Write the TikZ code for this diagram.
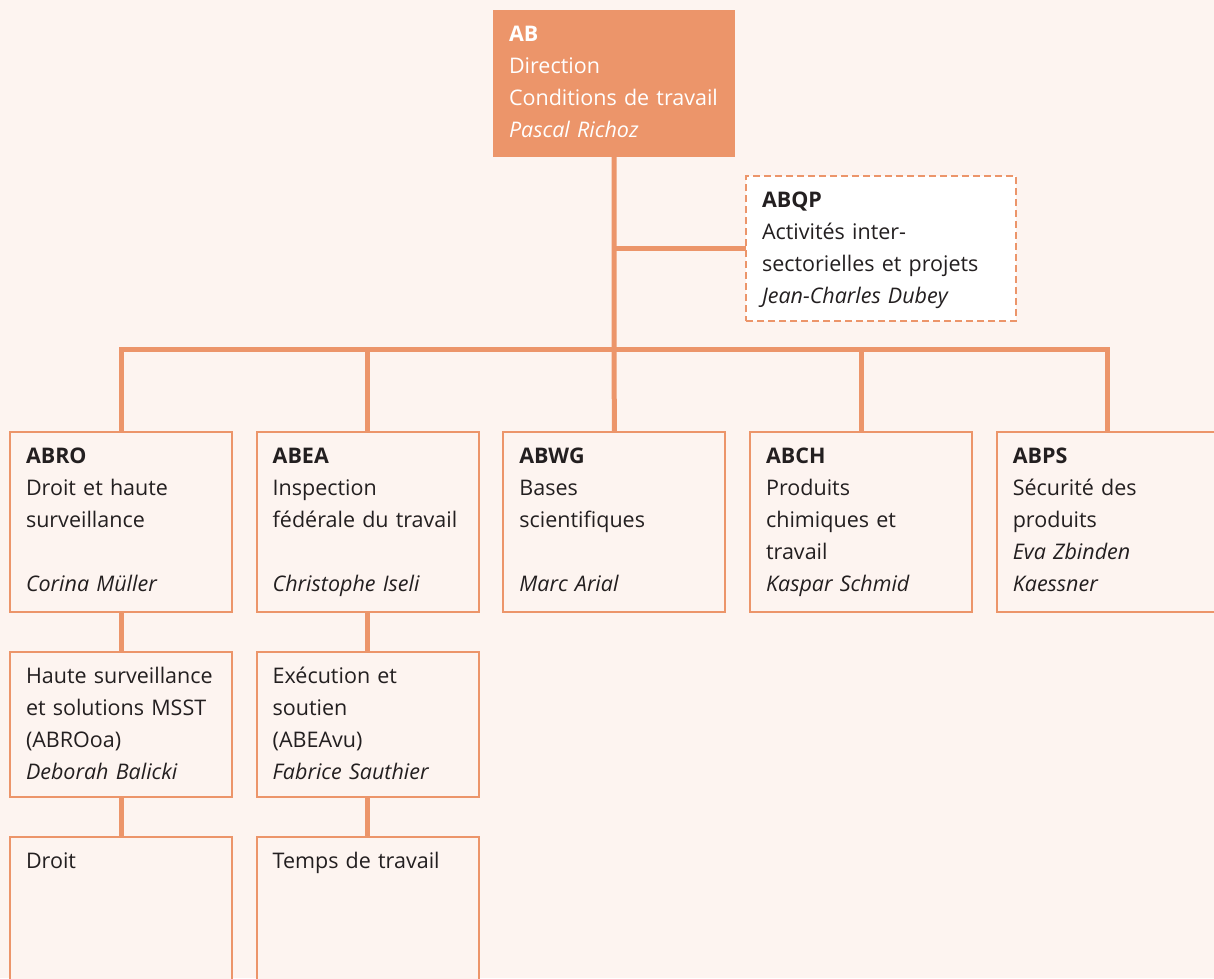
\documentclass[tikz,border=0pt]{standalone}
\usepackage{fontspec}
\setmainfont{Open Sans}
\usetikzlibrary{positioning}
\definecolor{paper}{RGB}{253,244,240}
\definecolor{accent}{RGB}{236,149,106}
\definecolor{ink}{RGB}{35,31,32}
\newcommand\unit[2]{\textbf{#1}\\#2}
\newcommand\AB     {\unit{AB}{Direction\\Conditions de travail\\\emph{Pascal Richoz}}}
\newcommand\ABQP   {\unit{ABQP}{Activités inter-\\sectorielles et projets\\\emph{Jean-Charles Dubey}}}
\newcommand\ABRO   {\unit{ABRO}{Droit et haute\\surveillance\\\mbox{}\\\emph{Corina Müller}}}
\newcommand\ABEA   {\unit{ABEA}{Inspection\\fédérale du travail\\\mbox{}\\\emph{Christophe Iseli}}}
\newcommand\ABWG   {\unit{ABWG}{Bases\\scientifiques\\\mbox{}\\\emph{Marc Arial}}}
\newcommand\ABCH   {\unit{ABCH}{Produits\\chimiques et\\travail\\\emph{Kaspar Schmid}}}
\newcommand\ABPS   {\unit{ABPS}{Sécurité des\\produits\\\emph{Eva Zbinden}\\\emph{Kaessner}}}
\newcommand\ABROoa {Haute surveillance\\et solutions MSST\\(ABROoa)\\\emph{Deborah Balicki}}
\newcommand\ABEAvu {Exécution et\\soutien\\(ABEAvu)\\\emph{Fabrice Sauthier}}

\begin{document}
\begin{tikzpicture}[x=1pt,y=-1pt]

\tikzset{unit/.style={draw=accent,line width=2pt,fill=paper,outer sep=0pt,
  inner xsep=16pt,inner ysep=0pt,text width=190pt,align=left,
  text height=31pt,text depth=#1,text=ink,font=\fontsize{21.5}{32}\selectfont},
  unit/.default=149pt}
\tikzset{link/.style={draw=accent,line width=5pt}}

\path[use as bounding box,fill=paper] (0,0) rectangle (1214,978);

\node[unit=116pt,fill=accent,draw=none,text=white,text width=210pt,anchor=north west] (ab) at (493,10) {\AB};
\node[unit=114pt,fill=white,dashed,dash pattern=on 7pt off 4pt,text width=238pt,anchor=north west] (abqp) at (746,176) {\ABQP};

\node[unit,anchor=north west] (abro) at (10,432) {\ABRO};
\node[unit,right=24.7pt of abro] (abea) {\ABEA};
\node[unit,right=24.7pt of abea] (abwg) {\ABWG};
\node[unit,right=24.7pt of abwg] (abch) {\ABCH};
\node[unit,right=24.7pt of abch] (abps) {\ABPS};

\node[unit=114pt,below=40pt of abro] (abrooa) {\ABROoa};
\node[unit=114pt,below=40pt of abea] (abeavu) {\ABEAvu};
\node[unit=129pt,below=40pt of abrooa] (droit) {Droit};
\node[unit=129pt,below=40pt of abeavu] (temps) {Temps de travail};

\path (ab.south) ++(0,192) coordinate (bus);
\draw[link] (ab.south) -- (bus) -- (abwg.north);
\draw[link] (abro.north) |- (bus) -| (abps.north);
\draw[link] (abea.north) -- (abea.north |- bus);
\draw[link] (abch.north) -- (abch.north |- bus);
\draw[link] (ab.south |- abqp.west) -- (abqp.west);
\draw[link] (abro.south) -- (abrooa.north);
\draw[link] (abrooa.south) -- (droit.north);
\draw[link] (abea.south) -- (abeavu.north);
\draw[link] (abeavu.south) -- (temps.north);

\end{tikzpicture}
\end{document}
